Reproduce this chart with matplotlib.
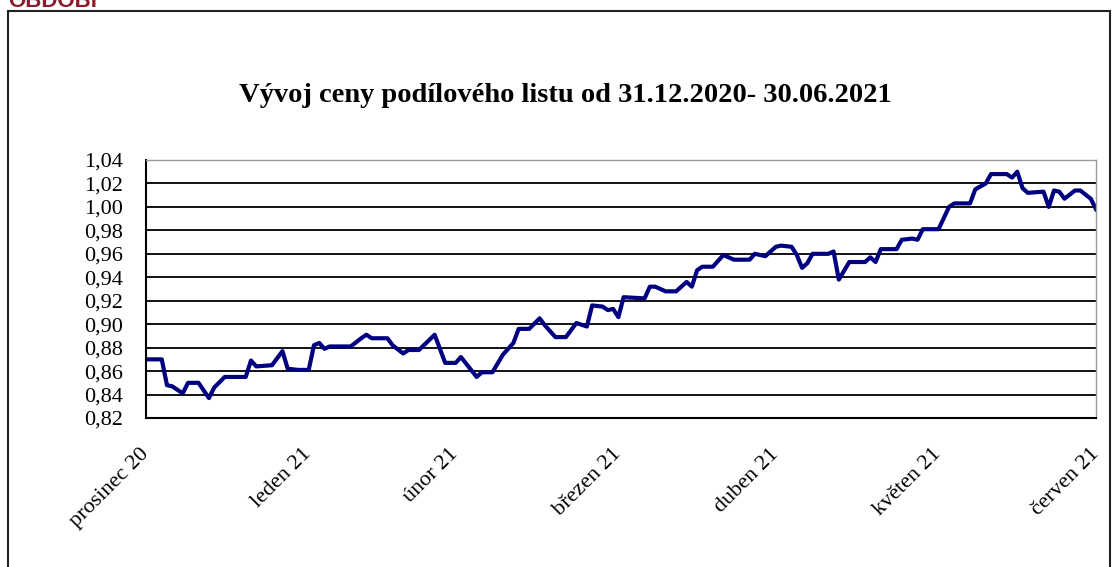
import numpy as np
import pandas as pd
import matplotlib
matplotlib.use("Agg")
import matplotlib.pyplot as plt
from matplotlib.patches import Rectangle

# Données (jours depuis le 31.12.2020, valeur du podílový list)
debut = pd.Timestamp("2020-12-31")
jours = [0, 3, 4, 5, 7, 8, 10, 12, 13, 15, 19, 20, 21, 24, 26, 27, 29, 31,
         32, 33, 34, 35, 39, 41, 42, 43, 46, 47, 49, 50, 52, 55, 57, 59,
         60, 63, 64, 66, 68, 70, 71, 73, 75, 76, 78, 80, 82, 84, 85, 87,
         88, 89, 90, 91, 95, 96, 97, 99, 101, 103, 104, 105, 106, 108, 110,
         112, 115, 116, 118, 120, 121, 123, 124, 125, 126, 127, 130, 131, 132,
         134, 137, 138, 139, 140, 143, 144, 146, 147, 148, 151, 153, 154, 157,
         158, 160, 161, 164, 165, 166, 167, 168, 171, 172, 173, 174, 175, 177,
         178, 180, 181]
hodnoty = [0.870, 0.870, 0.848, 0.847, 0.841, 0.850, 0.850, 0.837, 0.846, 0.855,
           0.855, 0.869, 0.864, 0.865, 0.877, 0.862, 0.861, 0.861,
           0.882, 0.884, 0.879, 0.881, 0.881, 0.888, 0.891, 0.888, 0.888, 0.882,
           0.875, 0.878, 0.878, 0.891, 0.867, 0.867,
           0.872, 0.855, 0.859, 0.859, 0.874, 0.884, 0.896, 0.896, 0.905, 0.899,
           0.889, 0.889, 0.901, 0.898, 0.916, 0.915,
           0.912, 0.913, 0.906, 0.923, 0.922, 0.932, 0.932, 0.928, 0.928, 0.936,
           0.932, 0.946, 0.949, 0.949, 0.959,
           0.955, 0.955, 0.960, 0.958, 0.966, 0.967, 0.966, 0.959, 0.948, 0.952,
           0.960, 0.960, 0.962, 0.938,
           0.953, 0.953, 0.957, 0.953, 0.964, 0.964, 0.972, 0.973, 0.972, 0.981,
           0.981, 1.000, 1.003, 1.003,
           1.015, 1.020, 1.028, 1.028, 1.025, 1.030, 1.016, 1.012, 1.013, 1.000,
           1.014, 1.013, 1.007, 1.014,
           1.014, 1.007, 0.998]
datumy = [debut + pd.Timedelta(days=d) for d in jours]

# Popisky osy x (konec každého měsíce)
tick_datumy = pd.to_datetime(["2020-12-31", "2021-01-31", "2021-02-28", "2021-03-31",
                              "2021-04-30", "2021-05-31", "2021-06-30"])
tick_popisky = ["prosinec 20", "leden 21", "únor 21", "březen 21",
                "duben 21", "květen 21", "červen 21"]
y_ticks = [0.82, 0.84, 0.86, 0.88, 0.90, 0.92, 0.94, 0.96, 0.98, 1.00, 1.02, 1.04]

serif = "Liberation Serif"

fig = plt.figure(figsize=(11.18, 5.67), dpi=100)

# cadre extérieur
fig.patches.append(Rectangle((8 / 1118, -0.05), (1110 - 8) / 1118, 1.05 - 11 / 567,
                             transform=fig.transFigure, fill=False,
                             edgecolor="#222222", linewidth=1.5))
fig.text(8 / 1118, 1 - 7 / 567, "OBDOBÍ", color="#8b1a2b", fontsize=16,
         fontweight="bold", family="Liberation Sans", ha="left", va="baseline")

ax = fig.add_axes([146 / 1118, 1 - 418 / 567, 950 / 1118, 258 / 567])
ax.plot(datumy, hodnoty, color="#000080", linewidth=3, solid_joinstyle="round")

ax.set_ylim(0.82, 1.04)
ax.set_xlim(tick_datumy[0], tick_datumy[-1])
ax.set_yticks(y_ticks)
ax.set_yticklabels([("%.2f" % v).replace(".", ",") for v in y_ticks],
                   family=serif, fontsize=16)
ax.set_xticks(tick_datumy)
ax.set_xticklabels(tick_popisky, family=serif, fontsize=16, rotation=45,
                   ha="right", va="center", rotation_mode="anchor")
ax.tick_params(axis="y", length=0, pad=16.5)
ax.tick_params(axis="x", length=0, pad=24)

for v in y_ticks[1:-1]:
    ax.axhline(v, color="black", linewidth=1.3, zorder=1)
ax.spines["left"].set_linewidth(1.5)
ax.spines["bottom"].set_linewidth(1.5)
ax.spines["top"].set_color("#999999")
ax.spines["right"].set_color("#999999")
ax.spines["top"].set_linewidth(1)
ax.spines["right"].set_linewidth(1)

fig.text(565 / 1118, 1 - 95 / 567, "Vývoj ceny podílového listu od 31.12.2020- 30.06.2021",
         family=serif, fontweight="bold", fontsize=20.5, ha="center", va="center")

fig.savefig("out.png", dpi=100)
